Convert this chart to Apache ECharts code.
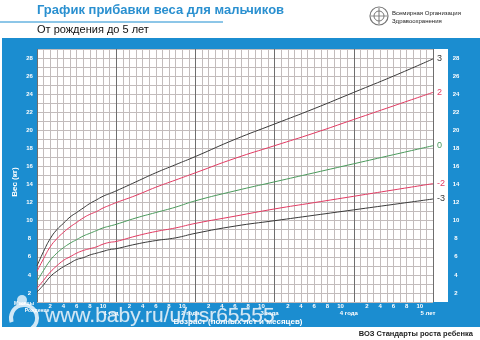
<!DOCTYPE html>
<html><head><meta charset="utf-8">
<script src="https://cdn.jsdelivr.net/npm/echarts@6/dist/echarts.min.js"></script>
<style>html,body{margin:0;padding:0;background:#fff}#c{width:480px;height:340px}</style>
</head><body><div id="c"></div>
<script>
// Age in months
const months = [0,1,2,3,4,5,6,7,8,9,10,11,12,15,18,21,24,30,36,42,48,54,60];
// Weight (kg) by z-score curve
const sdNeg3 = [2.1,2.9,3.8,4.4,4.9,5.3,5.7,5.9,6.2,6.4,6.6,6.8,6.9,7.4,7.8,8.1,8.6,9.4,10.0,10.6,11.2,11.8,12.4];
const sdNeg2 = [2.5,3.4,4.3,5.0,5.6,6.0,6.4,6.7,6.9,7.1,7.4,7.6,7.7,8.3,8.8,9.2,9.7,10.5,11.3,12.0,12.7,13.4,14.1];
const sd0    = [3.3,4.5,5.6,6.4,7.0,7.5,7.9,8.3,8.6,8.9,9.2,9.4,9.6,10.3,10.9,11.5,12.2,13.3,14.3,15.3,16.3,17.3,18.3];
const sd2    = [4.4,5.8,7.1,8.0,8.7,9.3,9.8,10.3,10.7,11.0,11.4,11.7,12.0,12.8,13.7,14.5,15.3,16.9,18.3,19.7,21.2,22.7,24.2];
const sd3    = [5.0,6.6,8.0,9.0,9.7,10.4,10.9,11.4,11.9,12.3,12.7,13.0,13.3,14.3,15.3,16.2,17.1,19.0,20.7,22.4,24.2,26.0,27.9];
const curveNames = ['-3','-2','0','2','3'];
const monthTickLabels = [2,4,6,8,10];
const yearLabels = ['1 год','2 года','3 года','4 года','5 лет'];
const yTickLabels = [2,4,6,8,10,12,14,16,18,20,22,24,26,28];

const BLUE = '#1b8dd0';
const colors = ['#3a3a3a','#e23a62','#4a9a5c','#e23a62','#3a3a3a'];
const curves = [sdNeg3, sdNeg2, sd0, sd2, sd3];

const chart = echarts.init(document.getElementById('c'), null, {renderer:'canvas'});
const gridLeft = 37, gridRight = 47, gridTop = 49, gridBottom = 38;

const yAxisBase = (pos, margin) => ({
  type:'value', min:1, max:29, interval:1, position:pos,
  axisLine:{show:false}, axisTick:{show:false},
  splitLine:{show: pos==='left', lineStyle:{color:'#c2bcbc', width:1}},
  axisLabel:{margin:margin, align:'center', color:'#fff', fontSize:6, fontWeight:'bold', fontFamily:'Liberation Sans',
    formatter: v => yTickLabels.includes(v) ? String(v) : ''}
});

chart.setOption({
  animation:false,
  grid:{left:gridLeft, right:gridRight, top:gridTop, bottom:gridBottom},
  xAxis:[
    {type:'value', min:0, max:60, interval:1, position:'bottom',
     axisLine:{show:false}, axisTick:{show:false}, axisLabel:{show:false},
     splitLine:{show:true, lineStyle:{color:'#c2bcbc', width:1}}},
    {type:'value', min:0, max:60, interval:2, position:'bottom',
     axisLine:{show:false}, axisTick:{show:false}, splitLine:{show:false},
     axisLabel:{margin:1, color:'#fff', fontSize:6, fontWeight:'bold', fontFamily:'Liberation Sans',
       formatter: v => monthTickLabels.includes(v % 12) ? String(v % 12) : ''}},
    {type:'value', min:0, max:60, interval:12, position:'bottom',
     axisLine:{show:false}, axisTick:{show:false},
     splitLine:{show:true, lineStyle:{color:'#6e6e6e', width:1}},
     axisLabel:{margin:8, color:'#fff', fontSize:6, fontWeight:'bold', fontFamily:'Liberation Sans', padding:[0,10,0,0],
       formatter: v => v === 0 ? '' : yearLabels[v/12 - 1]}}
  ],
  yAxis:[ yAxisBase('left', 7.5), yAxisBase('right', 23) ],
  series: curves.map((c, i) => ({
    type:'line', name:curveNames[i], xAxisIndex:0, yAxisIndex:0,
    data: months.map((m, j) => [m, c[j]]),
    showSymbol:false, smooth:0.5,
    lineStyle:{color:colors[i], width:1},
    endLabel:{show:true, formatter:curveNames[i], color:colors[i], fontSize:9, distance:4, fontFamily:'Liberation Sans'},
    z:5
  })),
  graphic:[
    {type:'rect', z:-20, shape:{x:2, y:38, width:478, height:289}, style:{fill:BLUE}},
    {type:'rect', z:-19, shape:{x:37, y:49, width:411, height:253}, style:{fill:'#fff'}},
    {type:'line', z:-19, shape:{x1:0, y1:22, x2:223, y2:22}, style:{stroke:BLUE, lineWidth:1}},
    {type:'text', z:50, left:37, top:4, style:{text:'График прибавки веса для мальчиков', fill:'#2a90d0', font:'bold 13px "Liberation Sans", Arial, sans-serif'}},
    {type:'text', z:50, left:37, top:24, style:{text:'От рождения до 5 лет', fill:'#111', font:'11px "Liberation Sans", Arial, sans-serif'}},
    {type:'circle', z:50, shape:{cx:379, cy:16, r:9}, style:{fill:'#fff', stroke:'#777', lineWidth:1.2}},
    {type:'circle', z:50, shape:{cx:379, cy:16, r:5}, style:{fill:'none', stroke:'#777', lineWidth:1}},
    {type:'line', z:50, shape:{x1:379, y1:8, x2:379, y2:24}, style:{stroke:'#777', lineWidth:1}},
    {type:'line', z:50, shape:{x1:371, y1:16, x2:387, y2:16}, style:{stroke:'#777', lineWidth:0.8}},
    {type:'text', z:50, left:392, top:10, style:{text:'Всемирная Организация', fill:'#222', font:'6px "Liberation Sans", Arial, sans-serif'}},
    {type:'text', z:50, left:392, top:18, style:{text:'Здравоохранения', fill:'#222', font:'6px "Liberation Sans", Arial, sans-serif'}},
    {type:'text', z:50, x:15, y:182, rotation:Math.PI/2, style:{text:'Вес (кг)', fill:'#fff', font:'bold 8px "Liberation Sans", Arial, sans-serif', align:'center', verticalAlign:'middle'}},
    {type:'text', z:50, x:238, y:322, style:{text:'Возраст (полных лет и месяцев)', fill:'#fff', font:'bold 8px "Liberation Sans", Arial, sans-serif', align:'center', verticalAlign:'middle'}},
    {type:'text', z:50, x:24, y:304, style:{text:'Месяцы', fill:'#fff', font:'bold 5px "Liberation Sans", Arial, sans-serif', align:'center', verticalAlign:'middle'}},
    {type:'text', z:50, x:37, y:311, style:{text:'Рождение', fill:'#fff', font:'bold 5px "Liberation Sans", Arial, sans-serif', align:'center', verticalAlign:'middle'}},
    {type:'text', z:50, x:473, y:334, style:{text:'ВОЗ Стандарты роста ребенка', fill:'#222', font:'bold 7.5px "Liberation Sans", Arial, sans-serif', align:'right', verticalAlign:'middle'}},
    {type:'text', z:60, x:45, y:316, style:{text:'www.baby.ru/u/usr65555', fill:'rgba(255,255,255,0.8)', stroke:'rgba(120,170,210,0.5)', lineWidth:0.5, font:'21px "Liberation Sans", Arial, sans-serif', verticalAlign:'middle'}},
    {type:'circle', z:60, shape:{cx:22, cy:300, r:5}, style:{fill:'rgba(255,255,255,0.75)'}},
    {type:'arc', z:60, shape:{cx:24, cy:318, r:13, startAngle:Math.PI*0.9, endAngle:Math.PI*2.3}, style:{stroke:'rgba(255,255,255,0.8)', lineWidth:4, fill:'none'}}
  ]
});
</script></body></html>
